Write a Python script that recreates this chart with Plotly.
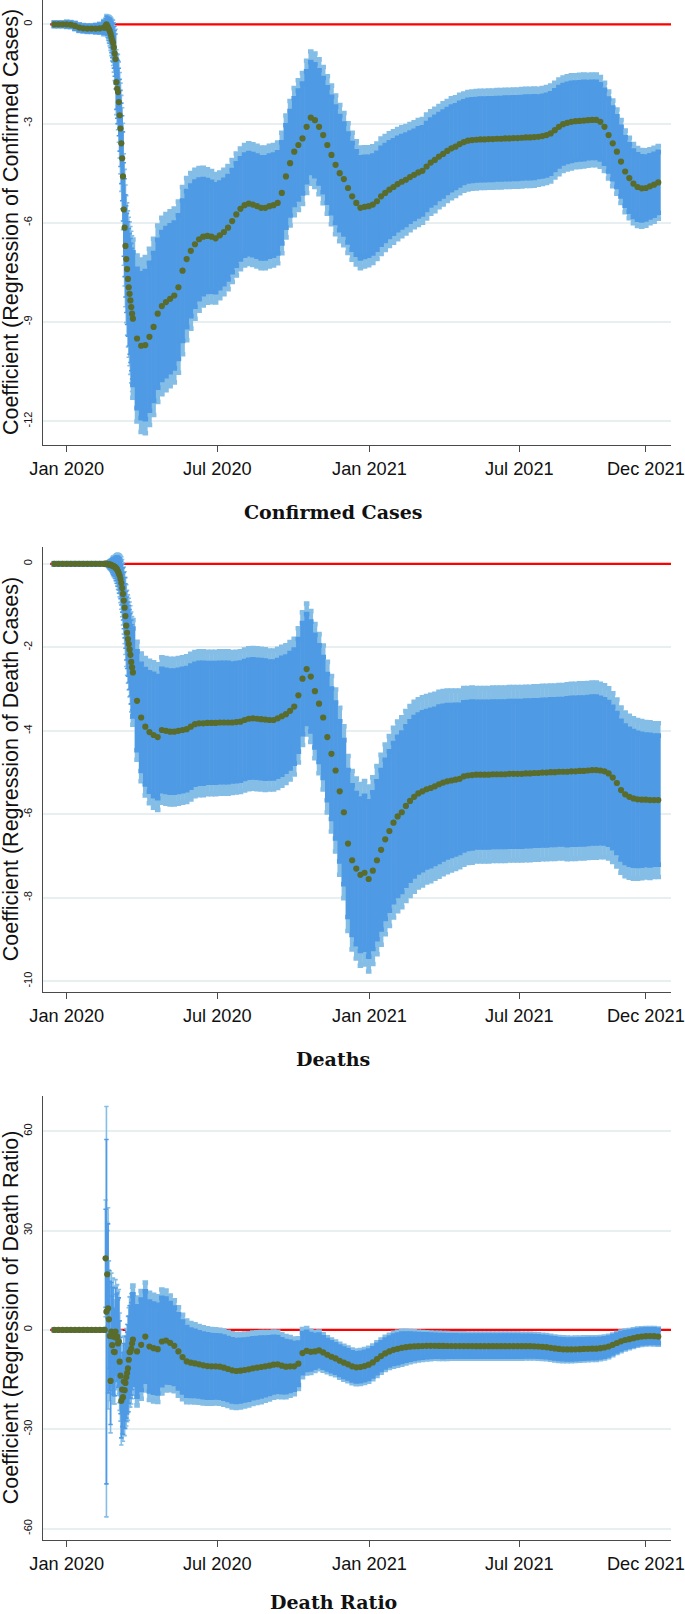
import plotly.graph_objects as go
import pandas as pd

# ---------------- data ----------------
main_dates = pd.date_range("2019-12-17", periods=147, freq="5D")   # every 5 days
early_dates = pd.date_range("2020-02-16", periods=34, freq="D")    # daily, Feb 16 - Mar 20 2020

panel_titles = ["Confirmed Cases", "Deaths", "Death Ratio"]
y_titles = ["Coefficient (Regression of Confirmed Cases)",
            "Coefficient (Regression of Death Cases)",
            "Coefficient (Regression of Death Ratio)"]

x_tick_vals = ["2020-01-01", "2020-07-01", "2021-01-01", "2021-07-01", "2021-12-01"]
x_tick_text = ["Jan 2020", "Jul 2020", "Jan 2021", "Jul 2021", "Dec 2021"]

y_tick_vals_cases = [0, -3, -6, -9, -12]
y_tick_text_cases = ["0", "-3", "-6", "-9", "-12"]
y_tick_vals_deaths = [0, -2, -4, -6, -8, -10]
y_tick_text_deaths = ["0", "-2", "-4", "-6", "-8", "-10"]
y_tick_vals_ratio = [60, 30, 0, -30, -60]
y_tick_text_ratio = ["60", "30", "0", "-30", "-60"]

# horizontal reference line at zero
ref_line_x = ["2019-12-12", "2021-12-31 10:00"]
ref_line_y = [0, 0]

Z95 = 1.96
Z90 = 1.645

coef_cases = [
    0.00, 0.00, 0.00, 0.00, -0.01, -0.05, -0.10, -0.12, -0.13, -0.13,
    -0.13, -0.12, -0.10, None, None, None, None, None, None, -8.90,
    -9.50, -9.72, -9.70, -9.45, -9.15, -8.75, -8.52, -8.40, -8.30, -8.20,
    -7.95, -7.45, -7.10, -6.85, -6.65, -6.50, -6.42, -6.40, -6.42, -6.47,
    -6.38, -6.28, -6.15, -5.95, -5.75, -5.58, -5.47, -5.42, -5.45, -5.50,
    -5.55, -5.55, -5.50, -5.47, -5.40, -5.10, -4.60, -4.20, -3.85, -3.65,
    -3.45, -3.10, -2.82, -2.90, -3.10, -3.35, -3.65, -3.95, -4.25, -4.50,
    -4.68, -4.95, -5.20, -5.40, -5.55, -5.52, -5.50, -5.45, -5.35, -5.20,
    -5.10, -5.00, -4.92, -4.83, -4.76, -4.70, -4.62, -4.55, -4.48, -4.43,
    -4.30, -4.18, -4.10, -4.00, -3.92, -3.83, -3.75, -3.70, -3.62, -3.56,
    -3.52, -3.50, -3.49, -3.48, -3.48, -3.47, -3.47, -3.46, -3.46, -3.45,
    -3.45, -3.44, -3.44, -3.43, -3.42, -3.42, -3.41, -3.40, -3.38, -3.35,
    -3.30, -3.20, -3.10, -3.02, -2.98, -2.95, -2.93, -2.92, -2.91, -2.90,
    -2.89, -2.89, -2.95, -3.10, -3.35, -3.60, -3.85, -4.15, -4.45, -4.65,
    -4.82, -4.92, -4.96, -4.95, -4.90, -4.85, -4.78]
se_cases = [
    0.03, 0.03, 0.03, 0.04, 0.04, 0.05, 0.05, 0.05, 0.05, 0.05,
    0.06, 0.07, 0.10, None, None, None, None, None, None, 1.22,
    1.28, 1.33, 1.36, 1.36, 1.36, 1.36, 1.36, 1.36, 1.35, 1.34,
    1.32, 1.29, 1.25, 1.20, 1.15, 1.10, 1.06, 1.03, 1.01, 0.99,
    0.97, 0.96, 0.95, 0.94, 0.94, 0.93, 0.93, 0.93, 0.93, 0.93,
    0.93, 0.93, 0.93, 0.93, 0.93, 0.93, 0.94, 0.96, 0.98, 1.00,
    1.01, 1.02, 1.02, 1.03, 1.04, 1.05, 1.06, 1.07, 1.07, 1.05,
    1.02, 1.00, 0.98, 0.95, 0.93, 0.92, 0.91, 0.90, 0.89, 0.89,
    0.88, 0.87, 0.86, 0.85, 0.84, 0.83, 0.82, 0.81, 0.81, 0.80,
    0.80, 0.79, 0.79, 0.78, 0.78, 0.77, 0.77, 0.76, 0.76, 0.75,
    0.75, 0.75, 0.75, 0.75, 0.75, 0.75, 0.75, 0.75, 0.75, 0.75,
    0.75, 0.75, 0.75, 0.75, 0.75, 0.75, 0.75, 0.74, 0.74, 0.74,
    0.74, 0.73, 0.73, 0.72, 0.72, 0.72, 0.71, 0.71, 0.71, 0.70,
    0.70, 0.70, 0.69, 0.68, 0.67, 0.66, 0.65, 0.64, 0.63, 0.62,
    0.61, 0.60, 0.59, 0.58, 0.57, 0.57, 0.56]
coef_cases_early = [
    -0.10, -0.05, 0.00, -0.05, -0.10, -0.15, -0.20, -0.28, -0.38, -0.48,
    -0.56, -0.70, -0.88, -1.05, -1.75, -1.95, -2.05, -2.35, -2.75, -3.15,
    -3.60, -4.05, -4.60, -5.60, -6.15, -6.70, -7.10, -7.40, -7.70, -7.95,
    -8.15, -8.35, -8.55, -8.75]
se_cases_early = [
    0.12, 0.13, 0.15, 0.17, 0.19, 0.21, 0.23, 0.26, 0.29, 0.32,
    0.35, 0.38, 0.42, 0.46, 0.50, 0.54, 0.58, 0.62, 0.66, 0.70,
    0.74, 0.78, 0.82, 0.86, 0.90, 0.94, 0.98, 1.02, 1.05, 1.08,
    1.11, 1.14, 1.17, 1.20]

coef_deaths = [
    0.00, 0.00, 0.00, 0.00, 0.00, 0.00, 0.00, 0.00, 0.00, 0.00,
    0.00, 0.00, 0.00, None, None, None, None, None, None, -2.60,
    -3.28, -3.68, -3.90, -4.03, -4.10, -4.15, -3.98, -4.00, -4.02, -4.02,
    -4.00, -3.98, -3.96, -3.90, -3.84, -3.82, -3.82, -3.81, -3.81, -3.81,
    -3.80, -3.80, -3.80, -3.80, -3.79, -3.78, -3.74, -3.71, -3.70, -3.71,
    -3.72, -3.73, -3.74, -3.74, -3.70, -3.65, -3.60, -3.52, -3.42, -3.15,
    -2.75, -2.52, -2.70, -3.05, -3.35, -3.68, -4.15, -4.55, -4.95, -5.45,
    -5.95, -6.70, -7.10, -7.30, -7.45, -7.40, -7.55, -7.35, -7.10, -6.85,
    -6.60, -6.40, -6.20, -6.05, -5.95, -5.80, -5.68, -5.58, -5.50, -5.45,
    -5.40, -5.37, -5.33, -5.28, -5.24, -5.21, -5.19, -5.17, -5.15, -5.09,
    -5.07, -5.06, -5.05, -5.05, -5.05, -5.05, -5.04, -5.04, -5.04, -5.04,
    -5.03, -5.03, -5.03, -5.03, -5.02, -5.02, -5.01, -5.01, -5.00, -5.00,
    -4.99, -4.99, -4.98, -4.98, -4.98, -4.97, -4.97, -4.96, -4.96, -4.95,
    -4.94, -4.94, -4.95, -4.97, -5.02, -5.12, -5.25, -5.42, -5.52, -5.58,
    -5.62, -5.64, -5.65, -5.65, -5.66, -5.66, -5.66]
se_deaths = [
    0.01, 0.01, 0.01, 0.01, 0.01, 0.01, 0.01, 0.01, 0.01, 0.01,
    0.01, 0.01, 0.01, None, None, None, None, None, None, 0.64,
    0.72, 0.78, 0.84, 0.87, 0.89, 0.89, 0.89, 0.89, 0.89, 0.89,
    0.89, 0.89, 0.89, 0.89, 0.88, 0.88, 0.88, 0.87, 0.87, 0.87,
    0.87, 0.87, 0.87, 0.86, 0.86, 0.86, 0.86, 0.86, 0.86, 0.86,
    0.86, 0.86, 0.85, 0.85, 0.85, 0.85, 0.84, 0.84, 0.83, 0.82,
    0.81, 0.80, 0.80, 0.82, 0.85, 0.88, 0.92, 0.95, 0.99, 1.02,
    1.05, 1.07, 1.09, 1.10, 1.11, 1.12, 1.13, 1.14, 1.15, 1.16,
    1.16, 1.16, 1.16, 1.16, 1.16, 1.16, 1.16, 1.16, 1.15, 1.15,
    1.14, 1.14, 1.13, 1.13, 1.12, 1.11, 1.10, 1.09, 1.08, 1.08,
    1.07, 1.07, 1.06, 1.06, 1.06, 1.06, 1.06, 1.06, 1.06, 1.06,
    1.06, 1.06, 1.06, 1.06, 1.06, 1.06, 1.06, 1.06, 1.06, 1.06,
    1.06, 1.06, 1.06, 1.06, 1.07, 1.07, 1.07, 1.07, 1.07, 1.07,
    1.07, 1.07, 1.06, 1.05, 1.04, 1.03, 1.02, 1.01, 1.00, 0.99,
    0.98, 0.97, 0.96, 0.95, 0.95, 0.94, 0.94]
coef_deaths_early = [
    0.00, 0.00, 0.00, 0.00, -0.01, -0.01, -0.02, -0.02, -0.03, -0.04,
    -0.05, -0.06, -0.07, -0.09, -0.11, -0.14, -0.18, -0.23, -0.28, -0.36,
    -0.46, -0.58, -0.72, -0.88, -1.05, -1.25, -1.48, -1.65, -1.80, -1.92,
    -2.05, -2.18, -2.35, -2.48]
se_deaths_early = [
    0.02, 0.02, 0.03, 0.03, 0.04, 0.05, 0.06, 0.07, 0.08, 0.10,
    0.12, 0.13, 0.14, 0.16, 0.18, 0.20, 0.22, 0.24, 0.26, 0.29,
    0.32, 0.35, 0.38, 0.41, 0.44, 0.47, 0.50, 0.52, 0.54, 0.56,
    0.58, 0.60, 0.61, 0.62]

coef_ratio = [
    0.00, 0.00, 0.00, 0.00, 0.00, 0.00, 0.00, 0.00, 0.00, 0.00,
    0.00, 0.00, 0.00, None, None, None, None, None, None, -2.90,
    -6.50, -4.50, -2.00, -5.00, -5.50, -5.80, -3.50, -3.20, -3.90, -4.80,
    -6.50, -8.20, -9.50, -9.90, -10.10, -10.40, -10.70, -10.90, -11.00, -11.00,
    -11.10, -11.40, -11.80, -12.20, -12.40, -12.30, -12.10, -11.90, -11.60, -11.40,
    -11.20, -11.00, -10.80, -10.50, -10.40, -10.80, -11.10, -11.00, -11.00, -10.20,
    -7.00, -6.30, -6.60, -6.50, -6.20, -6.80, -7.50, -8.10, -8.60, -9.30,
    -9.90, -10.40, -11.00, -11.30, -11.20, -10.90, -10.50, -9.80, -8.80, -7.90,
    -7.10, -6.50, -6.00, -5.70, -5.40, -5.20, -5.05, -4.95, -4.90, -4.85,
    -4.80, -4.80, -4.80, -4.82, -4.84, -4.85, -4.86, -4.87, -4.88, -4.88,
    -4.89, -4.89, -4.90, -4.90, -4.90, -4.90, -4.90, -4.90, -4.90, -4.90,
    -4.90, -4.90, -4.90, -4.90, -4.90, -4.92, -4.95, -5.00, -5.10, -5.20,
    -5.40, -5.60, -5.75, -5.85, -5.90, -5.90, -5.85, -5.80, -5.75, -5.70,
    -5.65, -5.65, -5.50, -5.30, -5.00, -4.50, -3.95, -3.45, -3.05, -2.80,
    -2.50, -2.20, -2.00, -1.90, -1.85, -1.90, -2.00]
se_ratio = [
    0.05, 0.05, 0.05, 0.05, 0.05, 0.05, 0.05, 0.05, 0.05, 0.05,
    0.05, 0.05, 0.05, None, None, None, None, None, None, 8.30,
    8.30, 8.30, 8.30, 8.25, 8.20, 8.15, 8.00, 7.70, 7.30, 7.00,
    6.80, 6.50, 6.30, 6.10, 6.00, 5.90, 5.85, 5.80, 5.75, 5.70,
    5.70, 5.70, 5.70, 5.70, 5.70, 5.65, 5.60, 5.55, 5.50, 5.45,
    5.40, 5.30, 5.20, 5.10, 5.00, 4.85, 4.70, 4.50, 4.30, 3.90,
    3.70, 3.50, 3.25, 3.00, 2.90, 2.80, 2.70, 2.65, 2.60, 2.60,
    2.60, 2.60, 2.60, 2.60, 2.60, 2.60, 2.60, 2.60, 2.60, 2.55,
    2.55, 2.55, 2.60, 2.62, 2.60, 2.50, 2.40, 2.30, 2.20, 2.15,
    2.10, 2.05, 2.00, 2.00, 2.00, 1.98, 1.97, 1.96, 1.95, 1.95,
    1.95, 1.95, 1.95, 1.95, 1.95, 1.95, 1.95, 1.95, 1.95, 1.95,
    1.95, 1.95, 1.93, 1.92, 1.90, 1.90, 1.88, 1.87, 1.86, 1.85,
    1.85, 1.85, 1.84, 1.83, 1.82, 1.81, 1.80, 1.79, 1.78, 1.77,
    1.76, 1.75, 1.72, 1.68, 1.64, 1.60, 1.55, 1.50, 1.45, 1.40,
    1.36, 1.32, 1.28, 1.26, 1.25, 1.25, 1.24]
coef_ratio_early = [
    0.0, 21.6, 5.5, 16.8, 6.5, 3.2, -1.8, -15.4, -0.5, -4.6,
    -2.0, -6.6, -6.7, -0.5, -2.4, -2.0, -4.1, -3.5, -9.6, -13.8,
    -21.4, -18.0, -20.3, -15.6, -18.2, -16.0, -14.3, -13.0, -11.6, -9.0,
    -6.7, -6.6, -5.7, -4.1]
se_ratio_early = [
    0.05, 9.0, 31.6, 8.0, 15.5, 9.0, 10.0, 8.0, 9.0, 9.0,
    9.0, 8.0, 8.0, 8.0, 8.0, 8.0, 8.0, 8.0, 7.5, 7.0,
    6.8, 6.8, 6.8, 7.0, 7.0, 7.0, 7.5, 7.5, 8.0, 8.0,
    8.5, 8.5, 8.5, 8.5]

# ---------------- styling ----------------
OUTER = "#84bee7"
INNER = "#4f9ae5"
DOT = "#5a6c2c"
AXC = "#4a4a4a"
GRID = "#e8eff1"
SANS = "Liberation Sans, Arial, sans-serif"

panels = [
    dict(main=(coef_cases, se_cases), early=(coef_cases_early, se_cases_early),
         ticks=(y_tick_vals_cases, y_tick_text_cases), rng=[-12.72, 0.735],
         dom=[0.7243, 1.0]),
    dict(main=(coef_deaths, se_deaths), early=(coef_deaths_early, se_deaths_early),
         ticks=(y_tick_vals_deaths, y_tick_text_deaths), rng=[-10.26, 0.393],
         dom=[0.3853, 0.6608]),
    dict(main=(coef_ratio, se_ratio), early=(coef_ratio_early, se_ratio_early),
         ticks=(y_tick_vals_ratio, y_tick_text_ratio), rng=[-63.39, 70.69],
         dom=[0.0459, 0.3211]),
]


def scaled(se, z):
    return [None if s is None else z * s for s in se]


fig = go.Figure()
for i, p in enumerate(panels):
    xa = "x" if i == 0 else f"x{i+1}"
    ya = "y" if i == 0 else f"y{i+1}"
    # red zero reference line (under the bands)
    fig.add_trace(go.Scatter(x=ref_line_x, y=ref_line_y, mode="lines",
                             xaxis=xa, yaxis=ya,
                             line=dict(color="#ff0000", width=2.2),
                             showlegend=False, hoverinfo="skip"))
    segs = [(main_dates, p["main"][0], p["main"][1], 4.6, 2.8),
            (early_dates, p["early"][0], p["early"][1], 1.6, 2.2)]
    for z, col in [(Z95, OUTER), (Z90, INNER)]:
        for dts, cf, se, thick, cap in segs:
            fig.add_trace(go.Scatter(
                x=dts, y=cf, mode="markers", xaxis=xa, yaxis=ya,
                marker=dict(size=1, color="rgba(0,0,0,0)"),
                error_y=dict(type="data", array=scaled(se, z), color=col,
                             thickness=thick, width=cap),
                showlegend=False, hoverinfo="skip"))
    for dts, cf, se, thick, cap in segs:
        fig.add_trace(go.Scatter(
            x=dts, y=cf, mode="markers", xaxis=xa, yaxis=ya,
            marker=dict(size=6.2, color=DOT, line=dict(width=0)),
            showlegend=False, hoverinfo="skip"))

    xkey = "xaxis" if i == 0 else f"xaxis{i+1}"
    ykey = "yaxis" if i == 0 else f"yaxis{i+1}"
    fig.layout[xkey] = dict(
        domain=[43 / 685, 671 / 685], anchor=ya, type="date",
        range=["2019-12-03 08:00", "2021-12-31 10:00"],
        tickvals=x_tick_vals, ticktext=x_tick_text,
        showline=True, linecolor=AXC, linewidth=1.2, mirror=False,
        ticks="outside", ticklen=6, tickwidth=1.2, tickcolor=AXC,
        tickfont=dict(family=SANS, size=18.2, color="#111111"),
        showgrid=False, zeroline=False, ticklabelstandoff=1,
        ticklabeloverflow="allow", automargin=False)
    fig.layout[ykey] = dict(
        domain=p["dom"], anchor=xa, range=p["rng"],
        tickvals=p["ticks"][0], ticktext=p["ticks"][1], tickangle=-90,
        ticks="", showline=True, linecolor=AXC, linewidth=1.2,
        showgrid=True, gridcolor=GRID, gridwidth=1.5, zeroline=False,
        tickfont=dict(family=SANS, size=11, color="#111111"),
        ticklabelstandoff=6, automargin=False)

# y-axis titles
for yc, t in zip([0.8621, 0.5231, 0.1835], y_titles):
    fig.add_annotation(text=t, xref="paper", yref="paper", x=10.5 / 685, y=yc,
                       xanchor="center", yanchor="middle", textangle=-90,
                       showarrow=False,
                       font=dict(family=SANS, size=21.5, color="#111111"))
# panel titles
for yc, t in zip([0.6826, 0.3439, (1614 - 1602) / 1614], panel_titles):
    fig.add_annotation(text=t, xref="paper", yref="paper", x=333.3 / 685, y=yc,
                       xanchor="center", yanchor="middle", showarrow=False,
                       font=dict(family="DejaVu Serif", size=19, color="#111111",
                                 weight="bold"))

fig.update_layout(width=685, height=1614, margin=dict(l=0, r=0, t=0, b=0),
                  paper_bgcolor="white", plot_bgcolor="white")

fig.write_html("out.html", config={"displayModeBar": False},
               post_script="document.body.style.margin='0px';")
